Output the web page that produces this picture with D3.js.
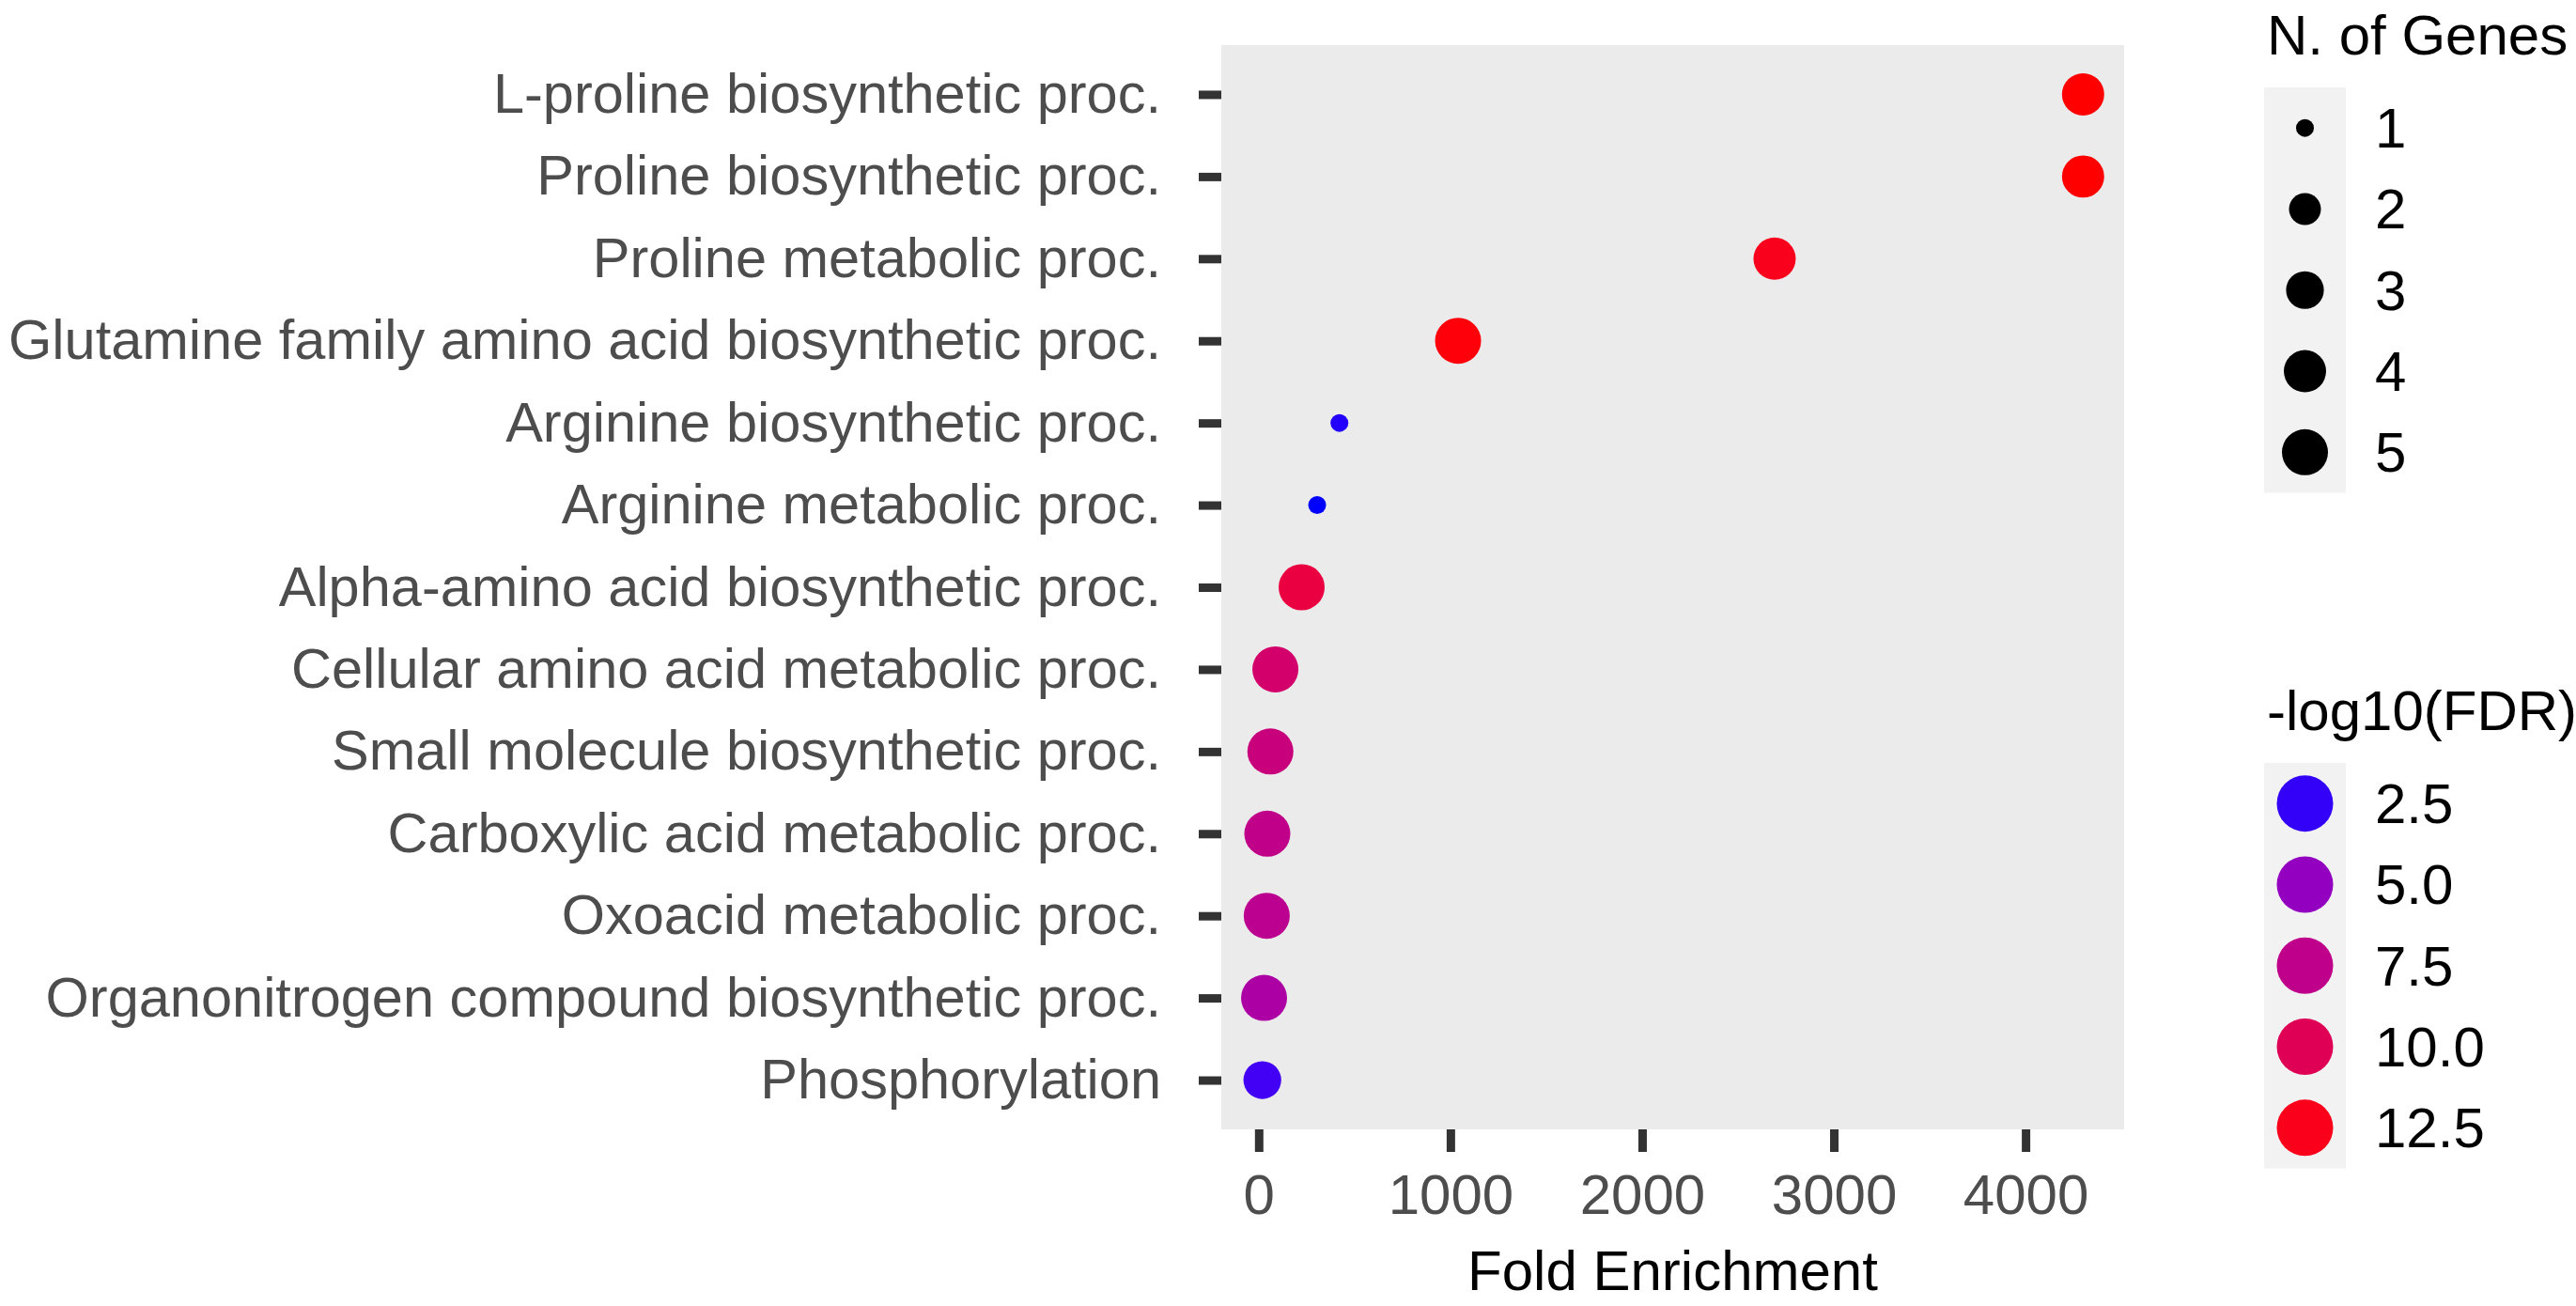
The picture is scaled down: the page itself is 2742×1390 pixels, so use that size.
<!DOCTYPE html>
<html>
<head>
<meta charset="utf-8">
<script src="https://cdn.jsdelivr.net/npm/d3@7"></script>
<style>
    body { margin: 0; background: #fff; }
    text { font-family: "Liberation Sans", Arial, Helvetica, sans-serif; }
</style>
</head>
<body>
<div id="chart"></div>
<script>

// GO terms, top to bottom
const terms = [
    "L-proline biosynthetic proc.",
    "Proline biosynthetic proc.",
    "Proline metabolic proc.",
    "Glutamine family amino acid biosynthetic proc.",
    "Arginine biosynthetic proc.",
    "Arginine metabolic proc.",
    "Alpha-amino acid biosynthetic proc.",
    "Cellular amino acid metabolic proc.",
    "Small molecule biosynthetic proc.",
    "Carboxylic acid metabolic proc.",
    "Oxoacid metabolic proc.",
    "Organonitrogen compound biosynthetic proc.",
    "Phosphorylation"
];
const foldEnrichment = [4300, 4300, 2691, 1040, 421, 305, 224, 87, 61, 45, 42, 28, 19];
const nGenes = [4, 4, 4, 5, 1, 1, 5, 5, 5, 5, 5, 5, 3];
const logFDR = [13.05, 13.05, 12.4, 12.9, 2.35, 2.2, 11.0, 9.0, 8.2, 7.6, 7.3, 6.3, 2.7];

const xTicks = [0, 1000, 2000, 3000, 4000];
const sizeBreaks = [1, 2, 3, 4, 5];
const colorBreaks = [2.5, 5.0, 7.5, 10.0, 12.5];

const W = 2742, H = 1390;
const panel = {left: 1300, right: 2261, top: 48, bottom: 1202};

const svg = d3.select("#chart").append("svg")
    .attr("width", W)
    .attr("height", H);

// scales
let xExt = d3.extent(foldEnrichment);
let xPad = (xExt[1] - xExt[0]) * 0.05;
const x = d3.scaleLinear()
    .domain([xExt[0] - xPad, xExt[1] + xPad])
    .range([panel.left, panel.right]);

const y = d3.scalePoint()
    .domain(terms)
    .range([panel.top, panel.bottom])
    .padding(0.6);

// ggplot-like area scale: diameter grows with sqrt of rescaled value
const sizeMin = d3.min(sizeBreaks), sizeMax = d3.max(sizeBreaks);
const sizeScale = d3.scaleSqrt()
    .domain([0, sizeMax - sizeMin])
    .range([19, 49]);
const diam = n => sizeScale(n - sizeMin);

const color = d3.scaleLinear()
    .domain(d3.extent(logFDR))
    .range(["blue", "red"])
    .interpolate(d3.interpolateLab);

// panel background
svg.append("rect")
    .attr("x", panel.left)
    .attr("y", panel.top)
    .attr("width", panel.right - panel.left)
    .attr("height", panel.bottom - panel.top)
    .attr("fill", "#ebebeb");

// axes
const yAxisGroup = svg.append("g")
    .attr("class", "axis y-axis")
    .attr("transform", `translate(${panel.left},0)`)
    .call(d3.axisLeft(y).tickSize(24).tickPadding(40));

const xAxisGroup = svg.append("g")
    .attr("class", "axis x-axis")
    .attr("transform", `translate(0,${panel.bottom})`)
    .call(d3.axisBottom(x).tickValues(xTicks).tickFormat(d3.format("d")).tickSize(24).tickPadding(23));

svg.selectAll(".axis .domain").remove();
svg.selectAll(".axis .tick line")
    .attr("stroke", "#333333")
    .attr("stroke-width", 9);
svg.selectAll(".axis .tick text")
    .attr("fill", "#4d4d4d")
    .attr("font-size", 60)
    .style("font-family", "'Liberation Sans', Arial, sans-serif");
yAxisGroup.selectAll(".tick text")
    .attr("font-size", 59.5);

// axis title
svg.append("text")
    .attr("x", (panel.left + panel.right) / 2)
    .attr("y", 1373)
    .attr("text-anchor", "middle")
    .attr("font-size", 60)
    .attr("fill", "#000")
    .text("Fold Enrichment");

// points
const points = terms.map((t, i) => ({term: t, fe: foldEnrichment[i], n: nGenes[i], fdr: logFDR[i]}));

svg.append("g")
    .selectAll("circle")
    .data(points)
    .enter().append("circle")
    .attr("cx", d => x(d.fe))
    .attr("cy", d => y(d.term))
    .attr("r", d => diam(d.n) / 2)
    .attr("fill", d => color(d.fdr));

// legends
const legX = 2410, keyW = 87, keyH = 86.3;

function drawLegend(top, title, breaks, keyFn) {
    let g = svg.append("g").attr("transform", `translate(${legX},${top})`);

    g.append("text")
        .attr("x", 3)
        .attr("y", 0)
        .attr("font-size", 60)
        .attr("fill", "#000")
        .text(title);

    g.append("rect")
        .attr("x", 0)
        .attr("y", 35)
        .attr("width", keyW)
        .attr("height", keyH * breaks.length)
        .attr("fill", "#f2f2f2");

    let keys = g.selectAll(".key")
        .data(breaks)
        .enter().append("g")
        .attr("class", "key")
        .attr("transform", (d, i) => `translate(${keyW / 2},${35 + keyH * (i + 0.5)})`);

    keys.append("circle")
        .attr("r", d => keyFn(d).r)
        .attr("fill", d => keyFn(d).fill);

    keys.append("text")
        .attr("x", 118 - keyW / 2)
        .attr("y", 21)
        .attr("font-size", 60)
        .attr("fill", "#000")
        .text(d => keyFn(d).label);
}

drawLegend(58, "N. of Genes", sizeBreaks, d => ({r: diam(d) / 2, fill: "#000", label: d}));
drawLegend(777, "-log10(FDR)", colorBreaks, d => ({r: 30, fill: color(d), label: d3.format(".1f")(d)}));

</script>
</body>
</html>
